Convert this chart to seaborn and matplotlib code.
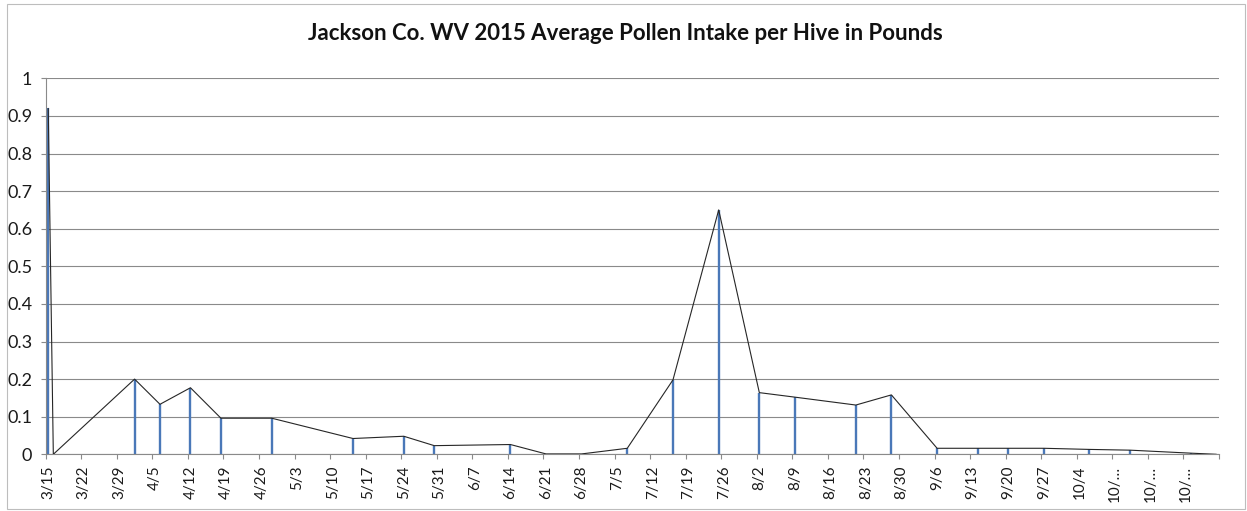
import matplotlib
matplotlib.use("Agg")
import matplotlib.pyplot as plt
import matplotlib.dates as mdates
from matplotlib.patches import Rectangle
from matplotlib.ticker import FuncFormatter, FixedLocator
import seaborn as sns
import pandas as pd

# --- data (date, avg pollen lbs per hive) ---
dates = [
    "2015-03-15", "2015-03-16", "2015-04-01", "2015-04-06", "2015-04-12",
    "2015-04-18", "2015-04-28", "2015-05-14", "2015-05-24", "2015-05-30",
    "2015-06-14", "2015-06-21", "2015-06-28", "2015-07-07", "2015-07-16",
    "2015-07-25", "2015-08-02", "2015-08-09", "2015-08-21", "2015-08-28",
    "2015-09-06", "2015-09-14", "2015-09-20", "2015-09-27", "2015-10-06",
    "2015-10-14", "2015-10-26", "2015-10-31",
]
pollen = [
    0.92, 0.0, 0.20, 0.133, 0.177,
    0.096, 0.096, 0.042, 0.048, 0.023,
    0.026, 0.001, 0.001, 0.016, 0.198,
    0.65, 0.164, 0.152, 0.131, 0.158,
    0.016, 0.016, 0.016, 0.016, 0.013,
    0.011, 0.003, 0.0,
]
week_labels = ["3/15", "3/22", "3/29", "4/5", "4/12", "4/19", "4/26", "5/3",
               "5/10", "5/17", "5/24", "5/31", "6/7", "6/14", "6/21", "6/28",
               "7/5", "7/12", "7/19", "7/26", "8/2", "8/9", "8/16", "8/23",
               "8/30", "9/6", "9/13", "9/20", "9/27", "10/4", "10/\u2026",
               "10/\u2026", "10/\u2026"]
y_ticks = [0, 0.1, 0.2, 0.3, 0.4, 0.5, 0.6, 0.7, 0.8, 0.9, 1.0]

df = pd.DataFrame({"date": pd.to_datetime(dates), "pollen": pollen})

sns.set_theme(style="white")
plt.rcParams["font.family"] = ["Lato", "DejaVu Sans"]

W, H = 1247, 511
fig = plt.figure(figsize=(W / 100, H / 100), dpi=100)
ax = fig.add_axes([45.7 / W, (H - 454.3) / H, (1219 - 45.7) / W, (454.3 - 78.3) / H])

grid_col = "#8a8a8a"
for y in y_ticks:
    ax.axhline(y, color=grid_col, lw=0.8, zorder=0)

# bars as thin columns + black connecting line
ax.vlines(df["date"], 0, df["pollen"], color="#4a78b8", lw=1.7, zorder=2)
sns.lineplot(data=df, x="date", y="pollen", ax=ax, color="#262626", lw=0.8, zorder=3)

# daily date axis, weekly ticks on day boundaries, labels centered on day
start = pd.Timestamp("2015-03-15")
half = pd.Timedelta(hours=12)
ax.set_xlim(start - half, pd.Timestamp("2015-10-31") + half)
ax.set_ylim(0, 1)

week_days = pd.date_range(start, periods=len(week_labels) + 1, freq="7D")
ax.xaxis.set_major_locator(FixedLocator(mdates.date2num(week_days - half)))
ax.xaxis.set_major_formatter(FuncFormatter(lambda v, p: ""))
ax.xaxis.set_minor_locator(FixedLocator(mdates.date2num(week_days[:-1])))
ax.xaxis.set_minor_formatter(FuncFormatter(lambda v, p: week_labels[p] if p < len(week_labels) else ""))
ax.tick_params(axis="x", which="major", length=3.6, width=0.8, color=grid_col, direction="out", bottom=True)
ax.tick_params(axis="x", which="minor", length=0, pad=8, labelsize=11, labelrotation=90, colors="#1a1a1a", bottom=True)
for lab in ax.xaxis.get_minorticklabels():
    lab.set_va("top")

ax.set_yticks(y_ticks)
ax.yaxis.set_major_formatter(FuncFormatter(lambda v, p: f"{v:g}"))
ax.tick_params(axis="y", length=3.6, width=0.8, color=grid_col, direction="out", left=True,
               labelsize=13, labelcolor="#1a1a1a", pad=6)

ax.set_xlabel("")
ax.set_ylabel("")
for side in ["top", "right"]:
    ax.spines[side].set_visible(False)
for side in ["left", "bottom"]:
    ax.spines[side].set_color(grid_col)
    ax.spines[side].set_linewidth(0.8)

fig.text(625 / W, 1 - 33.5 / H, "Jackson Co. WV 2015 Average Pollen Intake per Hive in Pounds",
         ha="center", va="center", fontsize=16, fontweight="bold", color="#111111")

# chart area frame
fig.patches.append(Rectangle((6.5 / W, 2 / H), (1245 - 6.5) / W, (507 - 2) / H,
                             transform=fig.transFigure, fill=False, edgecolor="#bdbdbd", lw=0.8))

fig.savefig("out.png", dpi=100)
